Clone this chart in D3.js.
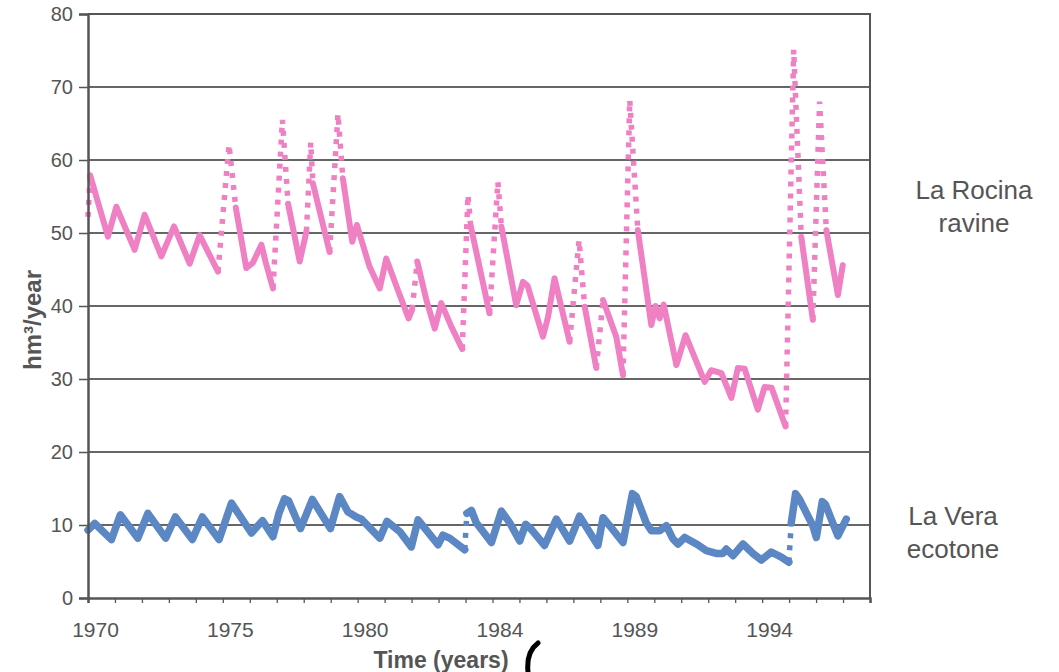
<!DOCTYPE html>
<html>
<head>
<meta charset="utf-8">
<script src="https://cdn.jsdelivr.net/npm/d3@7"></script>
<style>
  body { margin: 0; background: #fff; }
  svg { display: block; font-family: "Liberation Sans", Arial, sans-serif; }
</style>
</head>
<body>
<svg id="chart" width="1059" height="672"></svg>
<script>
// time in years since the start of 1970
const rocinaT = [0, 0.08, 0.74, 1.05, 1.73, 2.10, 2.72, 3.19, 3.77, 4.14,
  4.82, 5.23, 5.48, 5.87, 6.11, 6.43, 6.59, 6.86, 7.21, 7.42,
  7.85, 8.10, 8.26, 8.34, 8.96, 9.27, 9.45, 9.80, 9.97, 10.44,
  10.82, 11.06, 11.49, 11.89, 12.02, 12.21, 12.55, 12.86, 13.10, 13.47,
  13.88, 14.09, 14.19, 14.89, 15.20, 15.33, 15.88, 16.13, 16.30, 16.87,
  17.06, 17.30, 17.86, 18.21, 18.42, 18.85, 19.10, 19.59, 19.84, 20.09,
  20.39, 20.89, 21.05, 21.20, 21.35, 21.82, 22.16, 22.87, 23.11, 23.49,
  23.86, 24.10, 24.35, 24.84, 25.09, 25.35, 25.87, 26.17, 26.45, 26.88,
  27.13, 27.38, 27.81, 27.99];
const rocina = [52.2, 57.9, 49.5, 53.6, 47.7, 52.5, 46.8, 50.9, 45.8, 49.7,
  44.7, 62.1, 53.5, 45.2, 45.9, 48.4, 46.0, 42.4, 65.5, 54.0,
  46.1, 50.2, 62.4, 56.8, 47.4, 66.3, 57.5, 48.8, 51.1, 45.4,
  42.4, 46.5, 42.2, 38.3, 39.5, 46.1, 40.8, 36.9, 40.4, 37.2,
  34.1, 55.2, 51.0, 39.0, 57.0, 50.9, 40.1, 43.3, 42.8, 35.8,
  38.5, 43.8, 35.1, 49.0, 39.9, 31.5, 40.8, 35.8, 30.5, 68.2,
  50.4, 37.4, 40.0, 38.3, 40.2, 31.9, 36.0, 29.6, 31.2, 30.8,
  27.4, 31.5, 31.4, 25.8, 28.9, 28.8, 23.5, 75.1, 49.5, 38.1,
  68.0, 50.4, 41.5, 45.6];

const veraT = [0, 0.25, 0.87, 1.20, 1.85, 2.22, 2.88, 3.24, 3.87, 4.24,
  4.86, 5.32, 6.06, 6.47, 6.86, 7.08, 7.29, 7.44, 7.88, 8.32,
  8.99, 9.33, 9.64, 9.95, 10.14, 10.82, 11.09, 11.56, 11.99, 12.24,
  12.98, 13.16, 13.41, 13.97, 14.05, 14.22, 14.40, 14.96, 15.33, 15.64,
  16.01, 16.23, 16.44, 16.93, 17.37, 17.86, 18.23, 18.91, 19.10, 19.41,
  19.84, 20.19, 20.33, 20.70, 20.89, 21.20, 21.45, 21.69, 21.88, 22.13,
  22.56, 22.93, 23.30, 23.54, 23.67, 23.92, 24.29, 24.66, 24.97, 25.34,
  25.71, 25.99, 26.08, 26.24, 26.39, 26.88, 27.01, 27.23, 27.35, 27.81,
  28.12];
const vera = [9.3, 10.2, 8.0, 11.4, 8.2, 11.6, 8.2, 11.1, 8.0, 11.1,
  8.0, 13.0, 8.9, 10.6, 8.4, 11.6, 13.6, 13.3, 9.5, 13.5,
  9.5, 13.9, 11.8, 11.1, 10.8, 8.2, 10.5, 9.1, 7.0, 10.7,
  7.3, 8.6, 8.2, 6.6, 11.6, 12.0, 10.3, 7.6, 11.9, 10.3,
  7.8, 10.1, 9.4, 7.2, 10.8, 7.8, 11.2, 7.2, 11.0, 9.6,
  7.6, 14.3, 13.9, 10.3, 9.2, 9.2, 9.9, 8.1, 7.4, 8.3,
  7.4, 6.5, 6.1, 6.1, 6.7, 5.8, 7.4, 6.1, 5.2, 6.3,
  5.6, 4.9, 10.3, 14.3, 13.5, 9.9, 8.3, 13.2, 12.8, 8.5,
  10.8];

const yTicks = [0, 10, 20, 30, 40, 50, 60, 70, 80];
const xLabelPos = [0, 5, 10, 15, 20, 25];
const xLabels = ["1970", "1975", "1980", "1984", "1989", "1994"];

const svg = d3.select("#chart");
const margin = { top: 14, right: 189, bottom: 74, left: 88 };
const width = 1059, height = 672;

const x = d3.scaleLinear().domain([0, 29]).range([margin.left, width - margin.right]);
const y = d3.scaleLinear().domain([0, 80]).range([height - margin.bottom, margin.top]);

const grey = "#555";

// gridlines
svg.append("g")
  .selectAll("line")
  .data(yTicks.filter((d) => d > 0 && d < 80))
  .enter()
  .append("line")
  .attr("x1", x(0))
  .attr("x2", x(29))
  .attr("y1", (d) => y(d))
  .attr("y2", (d) => y(d))
  .attr("stroke", "#333")
  .attr("stroke-width", 1.3);

// frame top / right
svg.append("path")
  .attr("d", `M${x(0)},${y(80)}H${x(29)}V${y(0)}`)
  .attr("fill", "none")
  .attr("stroke", grey)
  .attr("stroke-width", 2);

// draw a series: gentle stretches solid, steep jumps as separate dots
function drawSeries(ts, vs, color, lineW, dotW) {
  const pts = ts.map((t, i) => [x(t), y(vs[i])]);
  const runs = [];
  let cur = null;
  for (let i = 0; i < pts.length - 1; i++) {
    const a = pts[i], b = pts[i + 1];
    const steep = Math.abs(b[1] - a[1]) > 8 * Math.abs(b[0] - a[0]);
    if (!cur || cur.steep !== steep) {
      cur = { steep: steep, pts: [a] };
      runs.push(cur);
    }
    cur.pts.push(b);
  }
  const g = svg.append("g");
  runs.forEach((r) => {
    const p = g.append("path")
      .attr("d", d3.line()(r.pts))
      .attr("fill", "none")
      .attr("stroke", color);
    if (r.steep) {
      p.attr("stroke-width", dotW)
        .attr("stroke-dasharray", "5 7")
        .attr("stroke-linecap", "butt");
    } else {
      p.attr("stroke-width", lineW)
        .attr("stroke-linejoin", "round")
        .attr("stroke-linecap", "round");
    }
  });
}

drawSeries(rocinaT, rocina, "#ef80c4", 6, 5.5);
drawSeries(veraT, vera, "#5b87c4", 7.5, 5.5);

// y axis
const yAxis = svg.append("g")
  .attr("transform", `translate(${x(0)},0)`)
  .call(d3.axisLeft(y).tickValues(yTicks).tickSize(9).tickPadding(6));
yAxis.select(".domain").attr("stroke", grey).attr("stroke-width", 2.5);
yAxis.selectAll(".tick line").attr("stroke", grey).attr("stroke-width", 1.5);
yAxis.selectAll("text")
  .attr("font-size", 20)
  .attr("fill", grey)
  .attr("font-family", "Liberation Sans, Arial, sans-serif");

// x axis
const labelOf = (d) => {
  const k = xLabelPos.indexOf(d);
  return k >= 0 ? xLabels[k] : "";
};
const xAxis = svg.append("g")
  .attr("transform", `translate(0,${y(0)})`)
  .call(d3.axisBottom(x).tickValues(d3.range(0, 30)).tickSize(5).tickPadding(19).tickFormat(labelOf));
xAxis.select(".domain").attr("stroke", grey).attr("stroke-width", 2.5);
xAxis.selectAll(".tick line").attr("stroke", grey).attr("stroke-width", 1.3);
xAxis.selectAll("text")
  .attr("dx", 7)
  .attr("font-size", 21)
  .attr("fill", grey)
  .attr("font-family", "Liberation Sans, Arial, sans-serif");

// axis titles
svg.append("text")
  .attr("x", 441)
  .attr("y", 668)
  .attr("text-anchor", "middle")
  .attr("font-size", 23)
  .attr("font-weight", "bold")
  .attr("fill", grey)
  .text("Time (years)");

svg.append("text")
  .attr("transform", "translate(41,320) rotate(-90)")
  .attr("text-anchor", "middle")
  .attr("font-size", 24)
  .attr("font-weight", "bold")
  .attr("fill", grey)
  .text("hm³/year");

// series labels on the right
const seriesLabels = [
  { lines: ["La Rocina", "ravine"], cx: 974, y0: 199 },
  { lines: ["La Vera", "ecotone"], cx: 953, y0: 525 },
];
seriesLabels.forEach((s) => {
  s.lines.forEach((t, i) => {
    svg.append("text")
      .attr("x", s.cx)
      .attr("y", s.y0 + i * 33)
      .attr("text-anchor", "middle")
      .attr("font-size", 26)
      .attr("fill", grey)
      .text(t);
  });
});

// pen stroke next to the axis title in the scan
svg.append("path")
  .attr("d", "M538,643 Q526,652 528,672")
  .attr("fill", "none")
  .attr("stroke", "#000")
  .attr("stroke-width", 5)
  .attr("stroke-linecap", "round");
</script>
</body>
</html>
